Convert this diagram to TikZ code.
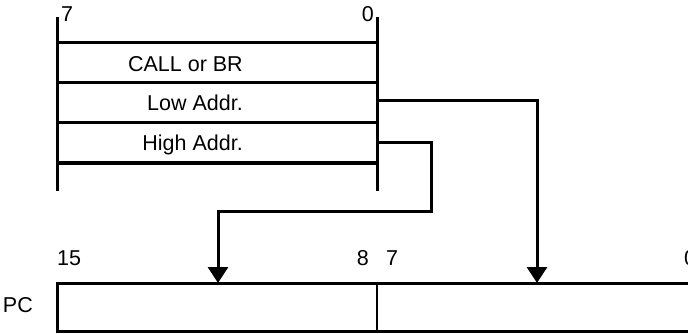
\documentclass[tikz,border=0pt]{standalone}
\usepackage{fontspec}
\setmainfont{Liberation Sans}
\usetikzlibrary{arrows.meta,positioning}

\begin{document}
\begin{tikzpicture}[
    x=1pt, y=-1pt,
    every node/.style={inner sep=0pt,font=\fontsize{21.5}{25}\selectfont},
    reg/.style={line width=3pt},
    bus/.style={line width=3pt,-{Triangle[width=20pt,length=16pt]}}
]
\useasboundingbox (0,0) rectangle (688,334);
% memory bytes
\draw[reg] (57,17) -- (57,191);
\draw[reg] (377,17) -- (377,191);
\foreach \y in {43,83,123,163}
    \draw[reg] (57,\y) -- (377,\y);
\node[anchor=base west] (m7) at (61,22) {7};
\node[anchor=base east] (m0) at (374,22) {0};
\node[anchor=base east] (call) at (243,72) {CALL or BR};
\node[anchor=base east] (low) at (243,111) {Low Addr.};
\node[anchor=base east] (high) at (243,150) {High Addr.};
\coordinate (lowR) at (377,101);
\coordinate (highR) at (377,143);
% program counter
\draw[reg] (57,283) rectangle (760,331);
\draw[line width=1.5pt] (377,283) -- (377,331);
\coordinate (pcHi) at (218,283);
\coordinate (pcLo) at (537,283);
\node[anchor=base east] (pc) at (33,312) {PC};
\node[anchor=base west] (p15) at (57,265) {15};
\node[anchor=base east] (p8) at (369,265) {8};
\node[anchor=base west] (p7) at (386,265) {7};
\node[anchor=base west] (p0) at (684,265) {0};
% buses
\draw[bus] (lowR) -| (pcLo);
\draw[bus] (highR) -- (431,143) -- (431,211) -| (pcHi);
\end{tikzpicture}
\end{document}
